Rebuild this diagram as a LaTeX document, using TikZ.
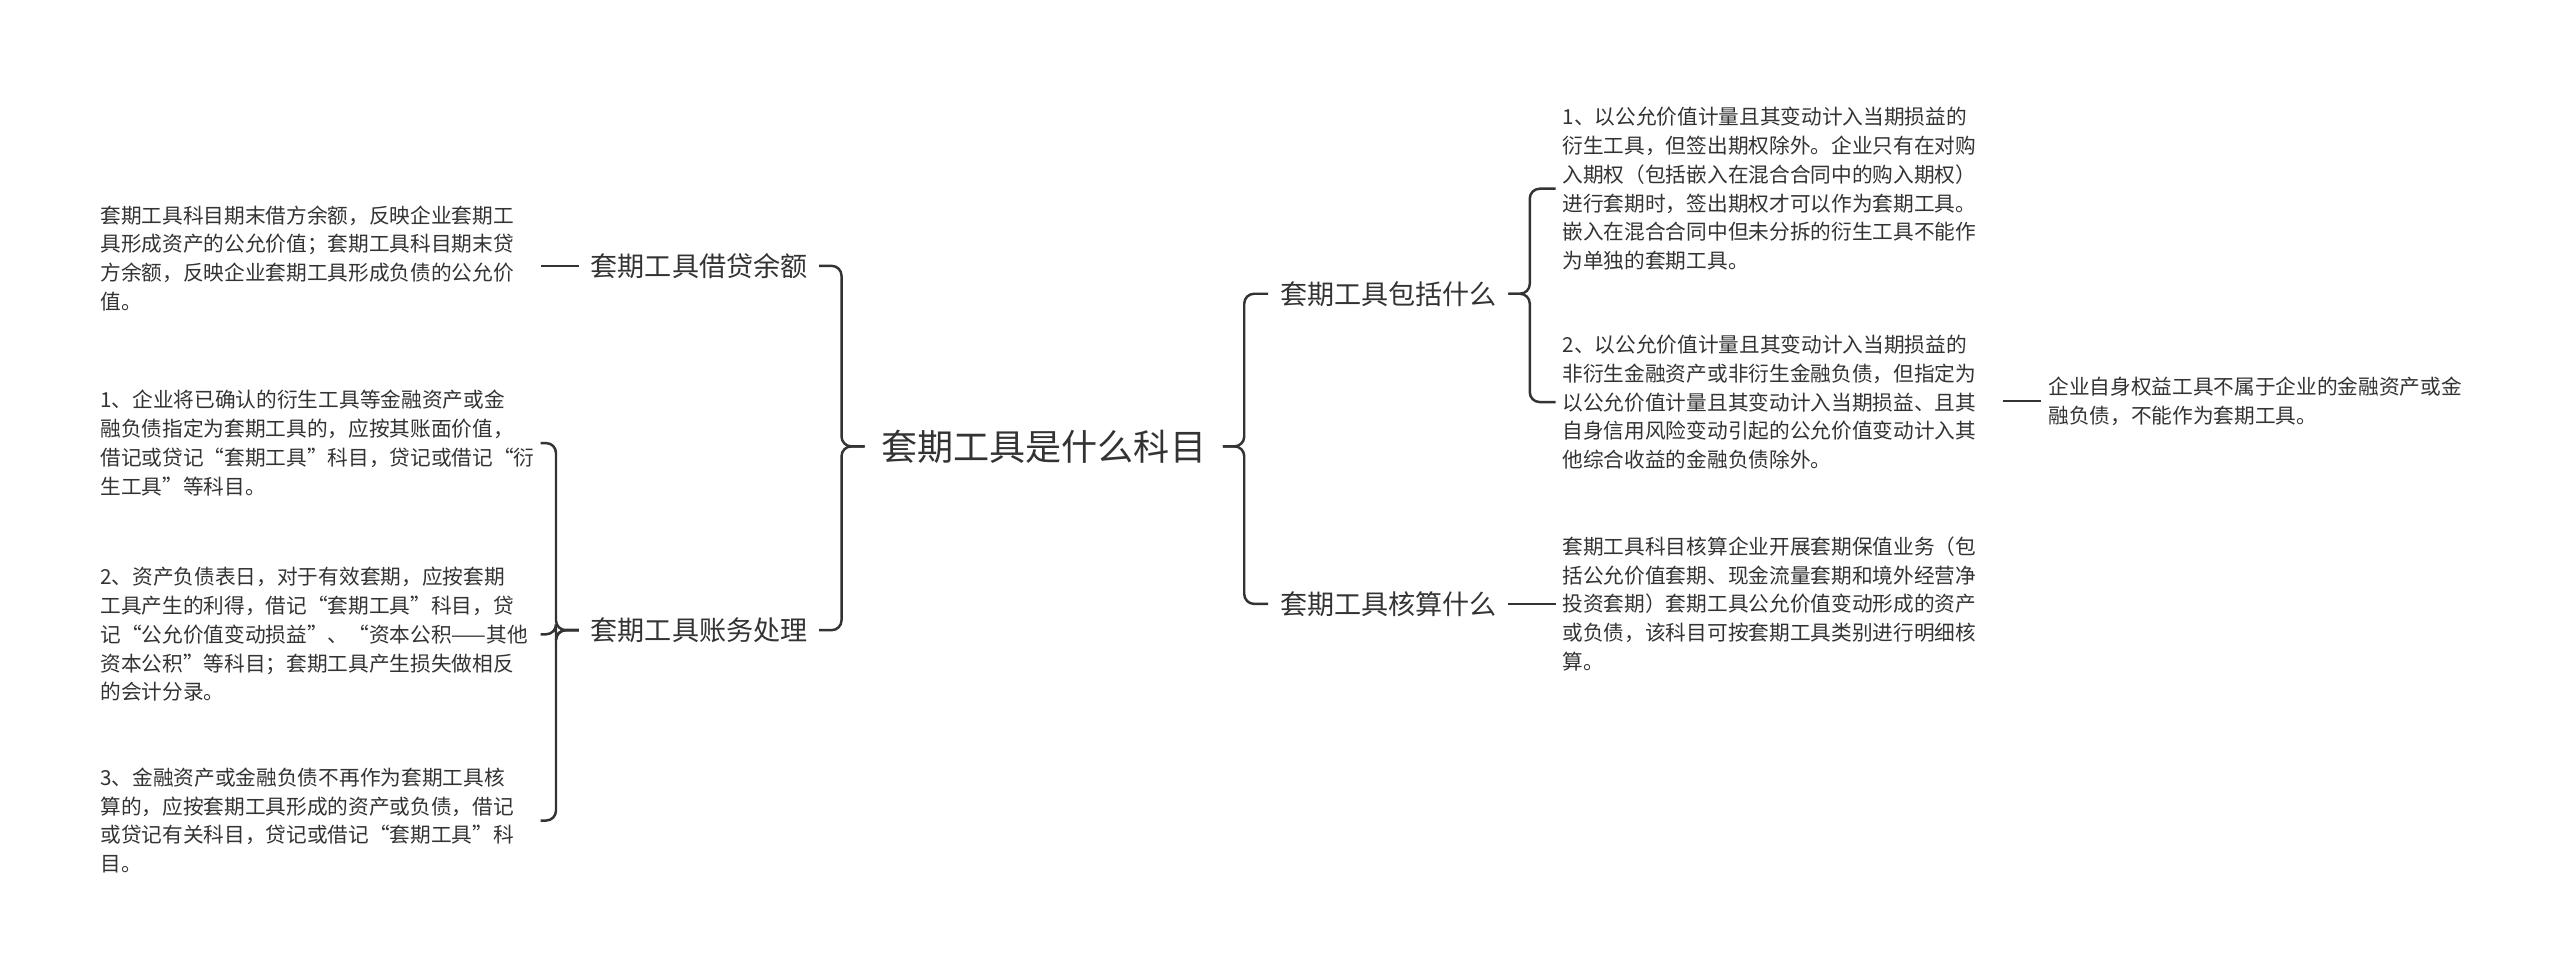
\documentclass[tikz,border=0pt]{standalone}
\usepackage{fontspec}
\setmainfont{Noto Sans CJK SC}
\usetikzlibrary{positioning}
\definecolor{ink}{HTML}{333333}

\tikzset{
  root/.style={font=\fontsize{22}{26}\selectfont, text=ink, inner xsep=10pt},
  branch/.style={font=\fontsize{16.5}{20}\selectfont, text=ink, inner xsep=7pt},
  leaf/.style={font=\fontsize{12.6}{17.6}\selectfont, text=ink, align=left, text width=264pt, inner xsep=4pt, inner ysep=0pt},
  link/.style={draw=ink, line width=1.5pt, rounded corners=6pt},
}

\begin{document}
\begin{tikzpicture}[x=1pt, y=-1pt]
	\useasboundingbox (0,0) rectangle (1560,592.4);

	\node[root] (root) at (636,272) {套期工具是什么科目};

	% left side
	\node[branch] (jd) at (426,162) {套期工具借贷余额};
	\node[branch] (zw) at (426,384) {套期工具账务处理};

	\node[leaf, anchor=west] (jd1) at (57,157.5) {套期工具科目期末借方余额，反映企业套期工\\具形成资产的公允价值；套期工具科目期末贷\\方余额，反映企业套期工具形成负债的公允价\\值。};
	\node[leaf, anchor=west] (zw1) at (57,270) {1、企业将已确认的衍生工具等金融资产或金\\融负债指定为套期工具的，应按其账面价值，\\借记或贷记“套期工具”科目，贷记或借记“衍\\生工具”等科目。};
	\node[leaf, anchor=west] (zw2) at (57,386.5) {2、资产负债表日，对于有效套期，应按套期\\工具产生的利得，借记“套期工具”科目，贷\\记“公允价值变动损益”、“资本公积——其他\\资本公积”等科目；套期工具产生损失做相反\\的会计分录。};
	\node[leaf, anchor=west] (zw3) at (57,500) {3、金融资产或金融负债不再作为套期工具核\\算的，应按套期工具形成的资产或负债，借记\\或贷记有关科目，贷记或借记“套期工具”科\\目。};

	% right side
	\node[branch] (bk) at (846,179) {套期工具包括什么};
	\node[branch] (hs) at (846,368) {套期工具核算什么};

	\node[leaf, anchor=west] (bk1) at (948,115) {1、以公允价值计量且其变动计入当期损益的\\衍生工具，但签出期权除外。企业只有在对购\\入期权（包括嵌入在混合合同中的购入期权）\\进行套期时，签出期权才可以作为套期工具。\\嵌入在混合合同中但未分拆的衍生工具不能作\\为单独的套期工具。};
	\node[leaf, anchor=west] (bk2) at (948,245) {2、以公允价值计量且其变动计入当期损益的\\非衍生金融资产或非衍生金融负债，但指定为\\以公允价值计量且其变动计入当期损益、且其\\自身信用风险变动引起的公允价值变动计入其\\他综合收益的金融负债除外。};
	\node[leaf, anchor=west] (bk2a) at (1244,244.5) {企业自身权益工具不属于企业的金融资产或金\\融负债，不能作为套期工具。};
	\node[leaf, anchor=west] (hs1) at (948,368) {套期工具科目核算企业开展套期保值业务（包\\括公允价值套期、现金流量套期和境外经营净\\投资套期）套期工具公允价值变动形成的资产\\或负债，该科目可按套期工具类别进行明细核\\算。};

	% connectors
	\foreach \b in {jd, zw}
		\draw[link] (root.west) -- ++(-14,0) |- (\b.east);
	\foreach \b in {bk, hs}
		\draw[link] (root.east) -- ++(13,0) |- (\b.west);

	\draw[link] (jd.west) -- (jd.west -| jd1.east);
	\foreach \c in {zw1, zw2, zw3}
		\draw[link] (zw.west) -- ++(-14,0) |- (\c.east);
	\foreach \c in {bk1, bk2}
		\draw[link] (bk.east) -- ++(13,0) |- (\c.west);
	\draw[link] (hs.east) -- (hs.east -| hs1.west);
	\draw[link] (bk2.east |- bk2a.west) -- (bk2a.west);
\end{tikzpicture}
\end{document}
